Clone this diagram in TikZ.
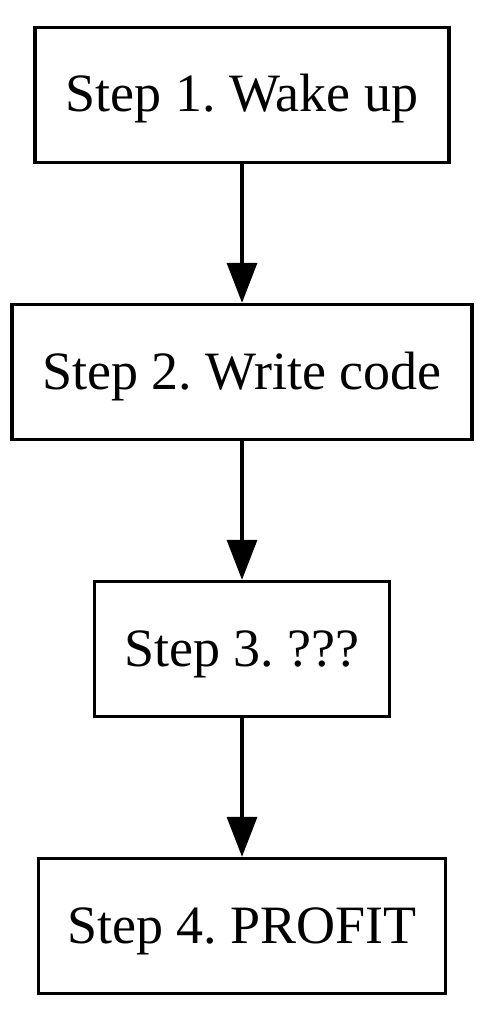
\documentclass[tikz,border=0pt]{standalone}
\usepackage{fontspec}
\setmainfont{Liberation Serif}
\usetikzlibrary{arrows.meta}
\frenchspacing
\begin{document}
\begin{tikzpicture}[x=1pt,y=-1pt,
  stepbox/.style={draw=black, line width=3.3pt, rectangle, inner sep=0pt,
    minimum height=135pt, text height=46pt, text depth=12pt,
    font=\fontsize{54}{60}\selectfont},
  flow/.style={draw=black, line width=3.3pt,
    -{Triangle[length=40pt,width=30pt]}}]
\fill[white] (0,0) rectangle (484,1016);
\useasboundingbox (0,0) rectangle (484,1016);
\node[stepbox, minimum width=414pt] (s1) at (242,95) {Step 1. Wake up};
\node[stepbox, minimum width=460pt] (s2) at (242,372) {Step 2. Write code};
\node[stepbox, minimum width=295pt] (s3) at (242,649) {Step 3. ???};
\node[stepbox, minimum width=407pt] (s4) at (242,926) {Step 4. PROFIT};
\draw[flow] (s1) -- (s2);
\draw[flow] (s2) -- (s3);
\draw[flow] (s3) -- (s4);
\end{tikzpicture}
\end{document}
